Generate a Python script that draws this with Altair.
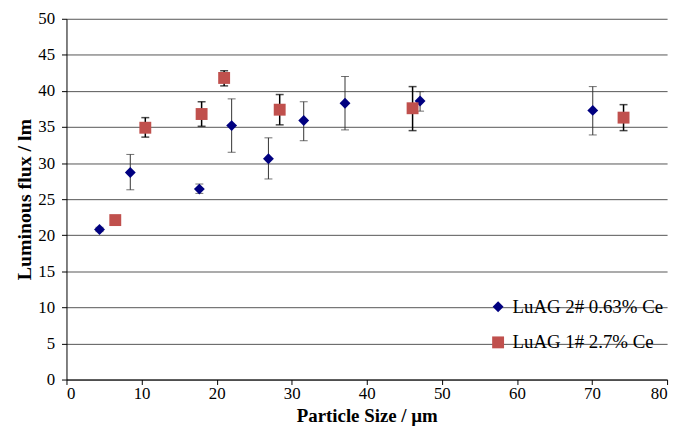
import altair as alt
import pandas as pd

blue_name = "LuAG 2# 0.63% Ce"
red_name = "LuAG 1# 2.7% Ce"

blue_x = [4.4, 8.5, 17.7, 22.0, 26.9, 31.6, 37.1, 47.1, 70.1]
blue_y = [20.8, 28.7, 26.4, 35.2, 30.6, 35.9, 38.3, 38.6, 37.3]
blue_lo = [20.5, 26.3, 25.8, 31.5, 27.8, 33.1, 34.6, 37.2, 33.9]
blue_hi = [21.1, 31.2, 27.1, 38.9, 33.5, 38.5, 42.0, 39.9, 40.6]

red_x = [6.5, 10.5, 18.0, 21.0, 28.4, 46.1, 74.2]
red_y = [22.1, 34.9, 36.8, 41.8, 37.4, 37.6, 36.3]
red_lo = [21.8, 33.6, 35.1, 40.7, 35.3, 34.5, 34.5]
red_hi = [22.3, 36.3, 38.5, 42.8, 39.5, 40.6, 38.1]

x_ticks = list(range(0, 81, 10))
y_ticks = list(range(0, 51, 5))

df = pd.DataFrame({
    "size": blue_x + red_x,
    "flux": blue_y + red_y,
    "lo": blue_lo + red_lo,
    "hi": blue_hi + red_hi,
    "series": [blue_name] * len(blue_x) + [red_name] * len(red_x),
})

FONT = "Liberation Serif"
xscale = alt.Scale(domain=[0, 80], nice=False, zero=False)
yscale = alt.Scale(domain=[0, 50], nice=False)
xaxis = alt.Axis(values=x_ticks, title="Particle Size / µm", grid=False,
                 tickSize=5, labelPadding=1, titleBaseline="bottom", titleY=46,
                 titleFontSize=19)
yaxis = alt.Axis(values=y_ticks, title="Luminous flux / lm", grid=True,
                 tickSize=5, labelPadding=7, titlePadding=3, titleFontSize=20)

X = lambda f: alt.X(f, type="quantitative", scale=xscale, axis=xaxis)
Y = lambda f: alt.Y(f, type="quantitative", scale=yscale, axis=yaxis)

layers = []
for name, col, w in [(blue_name, "#333333", 1.0), (red_name, "#000000", 1.5)]:
    sub = alt.Chart(df).transform_filter(alt.datum.series == name)
    layers.append(sub.mark_rule(color=col, strokeWidth=w).encode(
        x=X("size"), y=Y("lo"), y2="hi:Q"))
    layers.append(sub.mark_tick(color=col, thickness=w, size=8, orient="horizontal").encode(
        x=X("size"), y=Y("lo")))
    layers.append(sub.mark_tick(color=col, thickness=w, size=8, orient="horizontal").encode(
        x=X("size"), y=Y("hi")))

dom = [blue_name, red_name]
points = alt.Chart(df).mark_point(filled=True, opacity=1, strokeWidth=0).encode(
    x=X("size"),
    y=Y("flux"),
    color=alt.Color("series:N", scale=alt.Scale(domain=dom, range=["#000080", "#C0504D"]),
                    legend=alt.Legend(title=None)),
    shape=alt.Shape("series:N", scale=alt.Scale(domain=dom, range=["diamond", "square"]),
                    legend=alt.Legend(title=None)),
    size=alt.Size("series:N", scale=alt.Scale(domain=dom, range=[120, 144]), legend=None),
)
layers.append(points)

chart = alt.layer(*layers).properties(
    width=606, height=364,
    autosize=alt.AutoSizeParams(type="none"),
    padding={"left": 59, "top": 9, "right": 10, "bottom": 46},
).configure_view(stroke=None).configure_axis(
    labelFont=FONT, labelFontSize=17, labelColor="black",
    titleFont=FONT, titleFontWeight="bold", titleColor="black",
    domainColor="black", tickColor="black", gridColor="#555555", gridWidth=1,
).configure_legend(
    orient="none", legendX=426, legendY=281, padding=0,
    labelFont=FONT, labelFontSize=19, labelColor="black",
    symbolSize=121, symbolStrokeWidth=0, labelOffset=5, rowPadding=16,
)

chart.save("out.html", embed_options={"renderer": "svg", "actions": False})
